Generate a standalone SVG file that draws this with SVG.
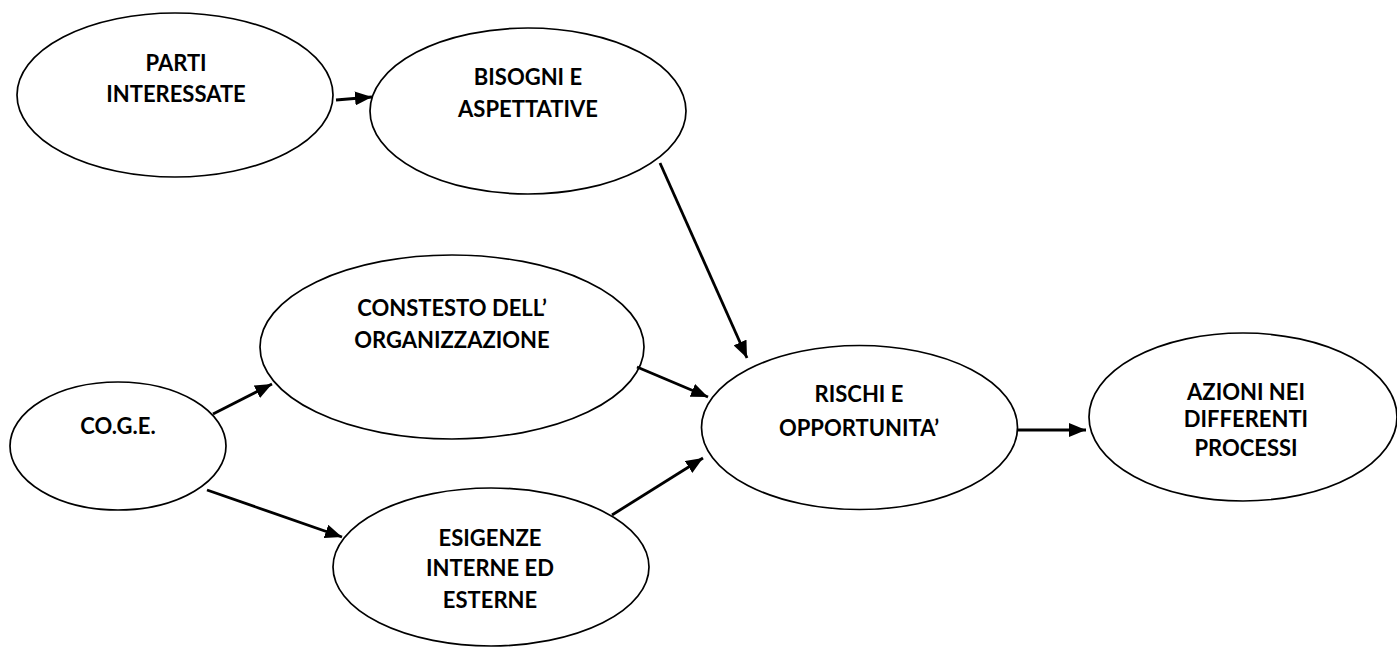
<svg xmlns="http://www.w3.org/2000/svg" width="1397" height="647" viewBox="0 0 1397 647">
<style>
.n ellipse{fill:#fff;stroke:#000;stroke-width:1.7}
.n text{font-family:Lato,"Open Sans","Liberation Sans",sans-serif;font-weight:bold;font-size:22px;text-anchor:middle;fill:#000}
.c line{stroke:#000;stroke-width:2.8;marker-end:url(#ah)}
</style>
<defs>
<marker id="ah" markerUnits="userSpaceOnUse" markerWidth="18" markerHeight="14" refX="17" refY="7" orient="auto">
<path d="M0,0 L17,7 L0,14 z" fill="#000"/>
</marker>
</defs>
<rect width="1397" height="647" fill="#fff"/>
<g class="n">
<g id="parti"><ellipse cx="175" cy="95" rx="158" ry="82"/><text x="176" y="71">PARTI</text><text x="176" y="102">INTERESSATE</text></g>
<g id="bisogni"><ellipse cx="528" cy="111" rx="158" ry="83"/><text x="528" y="85">BISOGNI E</text><text x="528" y="117">ASPETTATIVE</text></g>
<g id="contesto"><ellipse cx="452" cy="347" rx="192" ry="92"/><text x="452" y="316">CONSTESTO DELL’</text><text x="452" y="348">ORGANIZZAZIONE</text></g>
<g id="coge"><ellipse cx="118" cy="446" rx="108" ry="64"/><text x="118" y="434">CO.G.E.</text></g>
<g id="esigenze"><ellipse cx="491" cy="567" rx="158" ry="79"/><text x="490" y="546">ESIGENZE</text><text x="490" y="576">INTERNE ED</text><text x="490" y="608">ESTERNE</text></g>
<g id="rischi"><ellipse cx="859.5" cy="427.5" rx="158" ry="82"/><text x="859" y="402">RISCHI E</text><text x="859" y="436">OPPORTUNITA’</text></g>
<g id="azioni"><ellipse cx="1243" cy="417" rx="154" ry="84"/><text x="1246" y="400">AZIONI NEI</text><text x="1246" y="427">DIFFERENTI</text><text x="1246" y="456">PROCESSI</text></g>
</g>
<g class="c">
<line x1="336" y1="100" x2="372" y2="97"/>
<line x1="660" y1="163" x2="747" y2="358"/>
<line x1="213" y1="414" x2="272" y2="384"/>
<line x1="207" y1="490" x2="342" y2="537"/>
<line x1="637" y1="367" x2="708" y2="397"/>
<line x1="612" y1="515" x2="703" y2="458"/>
<line x1="1017" y1="430" x2="1086" y2="430"/>
</g>
</svg>
